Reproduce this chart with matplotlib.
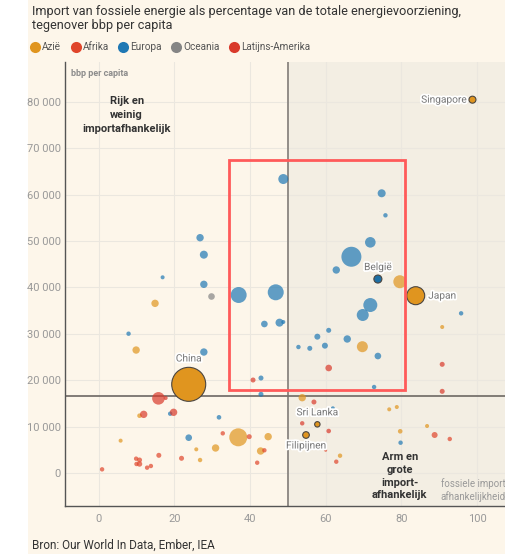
import matplotlib
import matplotlib.pyplot as plt
import matplotlib.patheffects as pe
from matplotlib.lines import Line2D
from matplotlib.patches import Rectangle
import numpy as np

plt.rcParams['font.family'] = ['Roboto', 'DejaVu Sans']

# import fossiele energie (% van totale voorziening), bbp per capita, bevolking (mln)
europa_x = [48.8, 74.8, 75.8, 71.8, 66.8, 62.8, 71.8, 69.8, 37.0, 46.8, 43.8, 47.8,
            48.8, 52.8, 55.8, 57.8, 60.8, 59.8, 65.7, 73.8, 72.8, 95.8, 42.9, 42.9,
            61.9, 31.8, 79.8, 23.8, 18.9, 7.9, 27.8, 26.8, 27.8, 16.9, 27.8]
europa_y = [63350, 60280, 55530, 49710, 46600, 43750, 36200, 34050, 38360, 38940, 32110, 32400,
            32540, 27150, 26870, 29380, 30750, 27440, 28880, 25210, 18530, 34410, 20470, 16960,
            13940, 12000, 6530, 7610, 12780, 30020, 26070, 50710, 47050, 42170, 40660]
europa_pop = [123, 79, 24, 138, 491, 67, 241, 177, 314, 314, 54, 79,
              20, 24, 31, 44, 31, 44, 67, 54, 24, 24, 31, 31,
              20, 26, 24, 54, 24, 24, 67, 67, 79, 20, 67]

oceanie_x = [29.8]
oceanie_y = [38210]
oceanie_pop = [54]

azie_x = [79.6, 69.7, 14.9, 9.9, 10.8, 5.8, 25.8, 26.8, 36.9, 30.9, 44.8, 42.8,
          53.8, 63.8, 90.8, 76.8, 78.8, 86.8, 79.7]
azie_y = [41220, 27220, 36560, 26500, 12350, 6970, 5100, 2800, 7690, 5390, 7830, 4740,
          16230, 3730, 31460, 13720, 14220, 10130, 8990]
azie_pop = [208, 149, 67, 67, 26, 20, 20, 24, 398, 67, 67, 67,
            67, 24, 20, 20, 20, 20, 26]

afrika_x = [9.9, 10.8, 10.0, 10.8, 12.8, 13.8, 15.9, 0.9, 21.9, 32.8, 39.8, 43.8,
            41.9, 60.0, 62.8, 88.8, 92.8]
afrika_y = [3090, 2800, 1940, 1940, 1150, 1510, 3810, 790, 3170, 8550, 7830, 4890,
            2220, 4890, 2440, 8190, 7330]
afrika_pop = [24, 31, 24, 36, 24, 24, 31, 24, 31, 24, 31, 24,
              24, 11, 24, 44, 24]

latam_x = [15.8, 17.7, 11.9, 19.8, 56.9, 53.8, 60.8, 60.8, 40.8, 90.8, 90.8]
latam_y = [16090, 16160, 12640, 13080, 15300, 10710, 9050, 22630, 20040, 23420, 17600]
latam_pop = [195, 20, 67, 67, 31, 24, 26, 54, 31, 31, 31]

# gemarkeerde landen
land_naam = ['Singapore', 'Japan', 'China', 'België', 'Sri Lanka', 'Filipijnen']
land_regio = ['Azië', 'Azië', 'Azië', 'Europa', 'Azië', 'Azië']
land_x = [98.8, 83.8, 23.8, 73.8, 57.8, 54.8]
land_y = [80450, 38210, 19110, 41800, 10490, 8190]
land_pop = [60, 398, 1420, 79, 36, 54]

gem_import = 50
gem_bbp = 16500

kleuren = {'Azië': '#e0951f', 'Afrika': '#e0452b', 'Europa': '#1f78b4',
           'Oceania': '#858585', 'Latijns-Amerika': '#d93a2b'}


def grootte(pop):
    r_px = 17 * np.sqrt(np.array(pop) / 1420)
    return (2 * r_px * 0.72) ** 2


fig = plt.figure(figsize=(5.05, 5.54), dpi=100, facecolor='white')
fig.patches.append(Rectangle((28 / 505, 0), 1, 1, transform=fig.transFigure,
                             facecolor='#fdf6ea', edgecolor='none', zorder=-10))

ax = fig.add_axes([65 / 505, 48 / 554, 1 - 65 / 505, (506 - 62) / 554])
ax.set_facecolor('#fdf6ea')
ax.set_xlim(-8.9, 107.4)
ax.set_ylim(-7110, 88570)
ax.axvspan(gem_import, 107.4, color='#f3eee3', zorder=0, lw=0)

ax.set_xticks(range(0, 101, 20))
ax.set_yticks(range(0, 80001, 10000))
ax.yaxis.set_major_formatter(matplotlib.ticker.FuncFormatter(
    lambda v, p: f'{v:,.0f}'.replace(',', ' ')))
ax.tick_params(length=0, labelsize=8, labelcolor='#999999', pad=3)
ax.tick_params(axis='x', pad=6)
ax.grid(color='#ebe7df', lw=0.8, zorder=0.5)
ax.set_axisbelow(True)
for s in ['top', 'right']:
    ax.spines[s].set_visible(False)
for s in ['left', 'bottom']:
    ax.spines[s].set_color('#555555')
    ax.spines[s].set_linewidth(1)

ax.axvline(gem_import, color='#8a8580', lw=1.3, zorder=1)
ax.axhline(gem_bbp, color='#77726d', lw=1.3, zorder=1)

reeksen = [('Europa', europa_x, europa_y, europa_pop),
           ('Oceania', oceanie_x, oceanie_y, oceanie_pop),
           ('Azië', azie_x, azie_y, azie_pop),
           ('Afrika', afrika_x, afrika_y, afrika_pop),
           ('Latijns-Amerika', latam_x, latam_y, latam_pop)]
for regio, xs, ys, pops in reeksen:
    ax.scatter(xs, ys, s=grootte(pops), color=kleuren[regio], alpha=0.7,
               lw=0, zorder=3)

ax.scatter(land_x, land_y, s=grootte(land_pop),
           color=[kleuren[r] if r != 'Europa' else '#1d6fa5' for r in land_regio],
           edgecolor='#4a4540', lw=0.8, zorder=4)

wit = [pe.withStroke(linewidth=2.5, foreground='white')]
offsets = {'Singapore': (-4, 0, 'right', 'center'),
           'Japan': (9, 0, 'left', 'center'),
           'China': (0, 15, 'center', 'bottom'),
           'België': (0, 5, 'center', 'bottom'),
           'Sri Lanka': (0, 5, 'center', 'bottom'),
           'Filipijnen': (0, -4, 'center', 'top')}
for naam, x, y in zip(land_naam, land_x, land_y):
    dx, dy, ha, va = offsets[naam]
    ax.annotate(naam, (x, y), xytext=(dx, dy), textcoords='offset points',
                ha=ha, va=va, fontsize=7.3, color='#777777', path_effects=wit,
                zorder=5)

# rode kader
ax.add_patch(Rectangle((34.4, 17900), 81 - 34.4, 67450 - 17900, fill=False,
                       edgecolor='#ff5a5a', lw=2, zorder=6))

ax.text(7.4, 77150, 'Rijk en\nweinig\nimportafhankelijk', ha='center', va='center',
        fontsize=8, fontweight='bold', color='#333333', linespacing=1.45, zorder=5)
ax.text(79.6, -700, 'Arm en\ngrote\nimport-\nafhankelijk', ha='center', va='center',
        fontsize=8, fontweight='bold', color='#333333', linespacing=1.35, zorder=5)
ax.text(90.4, -3700, 'fossiele import\nafhankelijkheid', ha='left', va='center',
        fontsize=7, color='#999999', linespacing=1.2, zorder=5)
ax.text(0.013, 0.985, 'bbp per capita', transform=ax.transAxes, ha='left', va='top',
        fontsize=6.5, fontweight='bold', color='#8c8c8c')

fig.text(32 / 505, 1 - 5 / 554,
         'Import van fossiele energie als percentage van de totale energievoorziening,\n'
         'tegenover bbp per capita', ha='left', va='top', fontsize=9.2,
         color='#333333', linespacing=1.15)

handles = [Line2D([], [], marker='o', ls='none', markersize=8, color=kleuren[r],
                  markeredgewidth=0, label=r) for r in kleuren]
fig.legend(handles=handles, loc='center left', bbox_to_anchor=(29 / 505, 1 - 47 / 554),
           ncol=5, frameon=False, fontsize=7.2, handletextpad=0.1, columnspacing=0.85,
           handlelength=1.2, labelcolor='#555555', borderaxespad=0, borderpad=0)

fig.text(32 / 505, 1 - 545 / 554, 'Bron: Our World In Data, Ember, IEA', ha='left',
         va='center', fontsize=8.5, color='#333333')

fig.savefig('out.png', dpi=100, facecolor=fig.get_facecolor())
